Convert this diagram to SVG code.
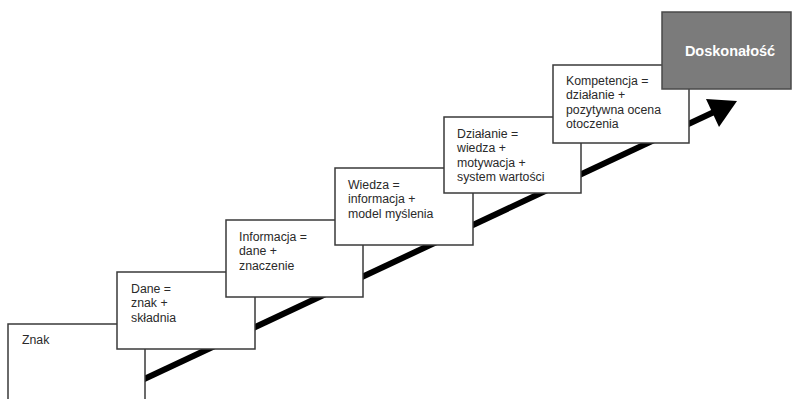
<svg xmlns="http://www.w3.org/2000/svg" width="793" height="399" viewBox="0 0 793 399">
  <defs>
    <style>
      .box { fill: #ffffff; stroke: #3a3a3a; stroke-width: 1.5; }
      .top { fill: #7b7b7b; stroke: #4a4a4a; stroke-width: 1.5; }
      .t { font-family: "Liberation Sans", Arial, sans-serif; font-size: 12.3px; fill: #2a2a2a; }
      .tw { font-family: "Liberation Sans", Arial, sans-serif; font-size: 14.5px; font-weight: bold; fill: #ffffff; }
      .arrow { stroke: #000000; stroke-width: 6; fill: none; }
    </style>
  </defs>
  <rect width="793" height="399" fill="#ffffff"/>
  <g id="connectors">
    <line class="arrow" x1="140" y1="381" x2="714" y2="112"/>
    <polygon points="737,101 706,99 719,127" fill="#000000"/>
  </g>
  <g id="znak">
    <rect class="box" x="8" y="324" width="137" height="80"/>
    <text class="t" x="22" y="344">Znak</text>
  </g>
  <g id="dane">
    <rect class="box" x="117" y="272" width="138" height="77"/>
    <text class="t" x="131" y="293">Dane =<tspan x="131" dy="14.3">znak +</tspan><tspan x="131" dy="14.3">składnia</tspan></text>
  </g>
  <g id="informacja">
    <rect class="box" x="226" y="220" width="137" height="77"/>
    <text class="t" x="239" y="241">Informacja =<tspan x="239" dy="14.3">dane +</tspan><tspan x="239" dy="14.3">znaczenie</tspan></text>
  </g>
  <g id="wiedza">
    <rect class="box" x="335" y="168" width="138" height="77"/>
    <text class="t" x="348" y="189">Wiedza =<tspan x="348" dy="14.3">informacja +</tspan><tspan x="348" dy="14.3">model myślenia</tspan></text>
  </g>
  <g id="dzialanie">
    <rect class="box" x="444" y="117" width="137" height="76"/>
    <text class="t" x="457" y="138">Działanie =<tspan x="457" dy="14.3">wiedza +</tspan><tspan x="457" dy="14.3">motywacja +</tspan><tspan x="457" dy="14.3">system wartości</tspan></text>
  </g>
  <g id="kompetencja">
    <rect class="box" x="553" y="65" width="136" height="78"/>
    <text class="t" x="566" y="85">Kompetencja =<tspan x="566" dy="14.3">działanie +</tspan><tspan x="566" dy="14.3">pozytywna ocena</tspan><tspan x="566" dy="14.3">otoczenia</tspan></text>
  </g>
  <g id="doskonalosc">
    <rect class="top" x="662" y="12" width="129" height="77"/>
    <text class="tw" x="730" y="56" text-anchor="middle">Doskonałość</text>
  </g>
</svg>
